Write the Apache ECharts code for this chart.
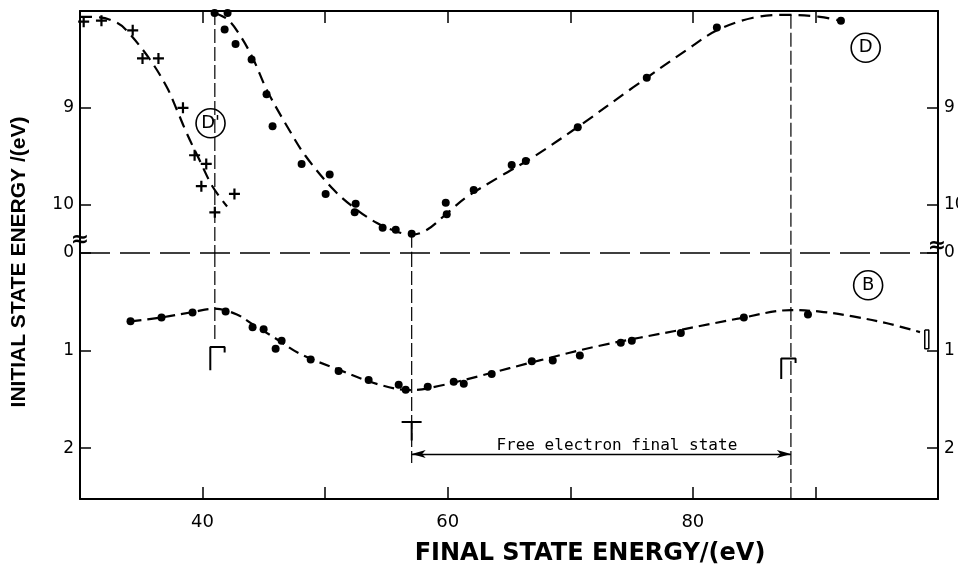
<!DOCTYPE html>
<html>
<head>
<meta charset="utf-8">
<script src="https://cdn.jsdelivr.net/npm/echarts/dist/echarts.min.js"></script>
<style>
  html, body { margin: 0; padding: 0; background: #fff; }
  #main { width: 958px; height: 565px; }
</style>
</head>
<body>
<div id="main"></div>
<script>
// tick labels
var xTickLabels = [40, 60, 80];
var upperTickLabels = [9, 10];   // upper panel (D, D') initial state energy
var lowerTickLabels = [0, 1, 2]; // lower panel (B)

// upper panel: D' crosses and fitted curve
var dPrimeCross = [[30.3, 8.11], [31.75, 8.10], [34.3, 8.20], [35.1, 8.49], [36.4, 8.49], [38.4, 9.0],
  [39.35, 9.49], [40.3, 9.58], [39.9, 9.81], [42.6, 9.89], [41.0, 10.08]];
var dPrimeCurve = [[30.0, 8.06], [31.6, 8.065], [33.0, 8.12], [33.8, 8.2], [35.7, 8.5], [37.1, 8.79],
  [37.9, 9.02], [38.7, 9.26], [39.75, 9.54], [40.8, 9.81], [42.0, 10.02]];

// upper panel: D dots and fitted curve
var dDots = [[40.98, 8.02], [42.04, 8.02], [41.80, 8.19], [42.69, 8.34], [44.0, 8.50], [45.22, 8.86],
  [45.71, 9.19], [48.08, 9.58], [50.37, 9.69], [50.04, 9.89], [52.49, 9.99], [52.41, 10.08],
  [54.69, 10.24], [55.76, 10.26], [57.06, 10.30], [59.84, 9.98], [59.92, 10.10], [62.12, 9.85],
  [65.22, 9.59], [66.37, 9.55], [70.61, 9.20], [76.24, 8.69], [81.96, 8.17], [92.08, 8.10]];
var dCurve = [[41.01, 8.02], [42.07, 8.09], [43.05, 8.25], [44.11, 8.49], [45.26, 8.82], [46.89, 9.19],
  [48.36, 9.49], [50.64, 9.84], [52.44, 10.04], [54.23, 10.19], [55.86, 10.28], [57.09, 10.31],
  [58.31, 10.26], [59.94, 10.09], [61.57, 9.92], [64.27, 9.71], [66.96, 9.51], [71.04, 9.16],
  [75.12, 8.79], [79.52, 8.40], [81.97, 8.20], [84.91, 8.07], [87.68, 8.04], [90.37, 8.06],
  [92.0, 8.10]];

// lower panel: B dots and fitted curve
var bDots = [[34.12, 0.70], [36.65, 0.66], [39.18, 0.61], [41.88, 0.60], [44.08, 0.76], [44.98, 0.78],
  [46.45, 0.90], [45.96, 0.98], [48.82, 1.09], [51.1, 1.21], [53.55, 1.30], [56.0, 1.35],
  [56.57, 1.40], [58.37, 1.37], [60.49, 1.32], [61.31, 1.34], [63.59, 1.24], [66.86, 1.11],
  [68.57, 1.10], [70.78, 1.05], [74.12, 0.92], [75.02, 0.90], [79.02, 0.82], [84.16, 0.66],
  [89.39, 0.63]];
var bCurve = [[34.12, 0.70], [36.65, 0.66], [39.2, 0.605], [41.0, 0.57], [42.8, 0.63], [44.08, 0.73],
  [45.9, 0.87], [47.9, 1.03], [51.2, 1.20], [54.45, 1.35], [57.06, 1.405], [59.35, 1.36],
  [62.6, 1.26], [67.5, 1.10], [72.4, 0.95], [78.9, 0.79], [83.8, 0.67], [88.0, 0.585],
  [90.37, 0.60], [93.06, 0.65], [95.84, 0.72], [98.53, 0.81]];

// vertical guide lines (x) and the y-span they cover in each panel
var guideX = [41.0, 57.06, 88.0];
var guideUpper = [[8.0, 10.5], [10.30, 10.5], [8.04, 10.5]];
var guideLower = [[0, 0.91], [0, 2.15], [0, 2.52]];

// critical point markers in lower panel
var bracket41 = [[40.63, 1.2], [40.63, 0.963], [41.8, 0.963], [41.8, 1.02]];
var bracket57 = [[56.24, 1.73], [57.06, 1.73], [57.06, 1.92], [57.06, 1.73], [57.87, 1.73]];
var bracket88 = [[87.21, 1.29], [87.21, 1.08], [88.38, 1.08], [88.38, 1.127]];
var bandEdge = [[98.92, 0.79], [99.25, 0.79], [99.25, 0.98], [98.92, 0.98], [98.92, 0.79]];

// free electron arrow
var freeArrow = [[57.06, 2.06], [88.0, 2.06]];
var freeTextAt = [73.8, 2.06];

var FONT = 'DejaVu Sans';
var chart = echarts.init(document.getElementById('main'));

function xAx(grid, pos, showLabel) {
  return {
    type: 'value', gridIndex: grid, position: pos, min: 30, max: 100, interval: 10,
    axisLine: { show: true, onZero: false, lineStyle: { color: '#000', width: 2 } },
    axisTick: { show: true, inside: true, length: 12, lineStyle: { color: '#000', width: 1.5 } },
    axisLabel: {
      show: showLabel, margin: 14, color: '#000', fontSize: 18, fontFamily: FONT,
      formatter: function (v) { return xTickLabels.indexOf(v) >= 0 ? String(v) : ''; }
    },
    splitLine: { show: false }
  };
}
function yAx(grid, pos, min, max, labels) {
  return {
    type: 'value', gridIndex: grid, position: pos, inverse: true, min: min, max: max, interval: 1,
    axisLine: { show: true, onZero: false, lineStyle: { color: '#000', width: 2 } },
    axisTick: { show: true, inside: true, length: 11, lineStyle: { color: '#000', width: 1.5 } },
    axisLabel: {
      show: true, margin: 6, color: '#000', fontSize: 17, fontFamily: FONT,
      showMinLabel: true, showMaxLabel: false,
      formatter: function (v) { return labels.indexOf(v) >= 0 ? String(v) : ''; }
    },
    splitLine: { show: false }
  };
}

var dashCurve = { color: '#000', width: 2.2, type: [12, 7] };
var guideStyle = { color: '#000', width: 1.2, type: [14, 4] };
var solid = { color: '#000', width: 2 };

function lineSeries(data, xi, yi, style, smooth) {
  return {
    type: 'line', xAxisIndex: xi, yAxisIndex: yi, data: data,
    smooth: smooth ? 0.35 : false,
    showSymbol: false, symbol: 'none', clip: false, silent: true, lineStyle: style, z: 3
  };
}

function circled(name, coord) {
  return {
    name: name, coord: coord, symbol: 'circle', symbolSize: 29,
    itemStyle: { color: 'rgba(0,0,0,0)', borderColor: '#000', borderWidth: 1.6, opacity: 1 },
    label: { show: true, position: 'inside', color: '#000', fontSize: 18, fontFamily: FONT, formatter: '{b}' }
  };
}

var dotStyle = { color: '#000', opacity: 1 };

var series = [
  lineSeries(dPrimeCurve, 0, 0, dashCurve, true),
  {
    type: 'scatter', xAxisIndex: 0, yAxisIndex: 0, data: dPrimeCross,
    symbol: 'path://M4,0H6V4H10V6H6V10H4V6H0V4H4Z', symbolSize: 11,
    itemStyle: dotStyle, z: 4
  },
  lineSeries(dCurve, 0, 0, dashCurve, true),
  {
    type: 'scatter', xAxisIndex: 0, yAxisIndex: 0, data: dDots, symbol: 'circle', symbolSize: 8,
    itemStyle: dotStyle, z: 4,
    markPoint: { silent: true, data: [circled("D'", [40.65, 9.16]), circled('D', [94.1, 8.38])] }
  },
  lineSeries(bCurve, 1, 2, { color: '#000', width: 2.2, type: [11, 6] }, true),
  {
    type: 'scatter', xAxisIndex: 1, yAxisIndex: 2, data: bDots, symbol: 'circle', symbolSize: 8,
    itemStyle: dotStyle, z: 4,
    markPoint: { silent: true, data: [circled('B', [94.3, 0.33])] }
  },
  // panel separator
  lineSeries([[30, 0], [100, 0]], 1, 2, { color: '#000', width: 1.5, type: [30, 10] }, false),
  lineSeries(bracket41, 1, 2, solid, false),
  lineSeries(bracket88, 1, 2, solid, false),
  lineSeries(bandEdge, 1, 2, { color: '#000', width: 1.5 }, false),
  Object.assign(lineSeries(bracket57, 1, 2, solid, false), {
    markLine: {
      silent: true, symbol: ['arrow', 'arrow'], symbolSize: [6, 14],
      lineStyle: { color: '#000', width: 1.3, type: 'solid' },
      label: { show: false },
      data: [[{ coord: freeArrow[0] }, { coord: freeArrow[1] }]]
    },
    markPoint: {
      silent: true,
      data: [{
        coord: freeTextAt, symbol: 'rect', symbolSize: 1, itemStyle: { color: 'rgba(0,0,0,0)' },
        label: {
          show: true, position: 'top', distance: 0, color: '#000', fontSize: 16,
          fontFamily: 'DejaVu Sans Mono', formatter: 'Free electron final state'
        }
      }]
    }
  })
];

guideX.forEach(function (x, i) {
  series.push(lineSeries([[x, guideUpper[i][0]], [x, guideUpper[i][1]]], 0, 0, guideStyle, false));
  series.push(lineSeries([[x, guideLower[i][0]], [x, guideLower[i][1]]], 1, 2, guideStyle, false));
});

chart.setOption({
  animation: false,
  backgroundColor: '#fff',
  textStyle: { fontFamily: FONT },
  grid: [
    { left: 80, right: 20, top: 11, height: 242, containLabel: false, outerBoundsMode: 'none' },
    { left: 80, right: 20, top: 253, height: 246, containLabel: false, outerBoundsMode: 'none' }
  ],
  xAxis: [xAx(0, 'top', false), xAx(1, 'bottom', true)],
  yAxis: [
    yAx(0, 'left', 8, 10.5, upperTickLabels),
    yAx(0, 'right', 8, 10.5, upperTickLabels),
    yAx(1, 'left', 0, 2.52, lowerTickLabels),
    yAx(1, 'right', 0, 2.52, lowerTickLabels)
  ],
  series: series,
  graphic: [
    {
      type: 'text', x: 19, y: 262, rotation: Math.PI / 2, z: 10,
      style: { text: 'INITIAL STATE ENERGY /(eV)', font: 'bold 21px "Liberation Sans"', fill: '#000', align: 'center', verticalAlign: 'middle' }
    },
    {
      type: 'text', x: 590, y: 554, z: 10,
      style: { text: 'FINAL STATE ENERGY/(eV)', font: 'bold 24px "DejaVu Sans"', fill: '#000', align: 'center', verticalAlign: 'middle' }
    },
    {
      type: 'text', x: 80, y: 240, z: 10,
      style: { text: '\u2248', font: 'bold 22px "DejaVu Sans"', fill: '#000', align: 'center', verticalAlign: 'middle' }
    },
    {
      type: 'text', x: 937, y: 246, z: 10,
      style: { text: '\u2248', font: 'bold 22px "DejaVu Sans"', fill: '#000', align: 'center', verticalAlign: 'middle' }
    }
  ]
});
</script>
</body>
</html>
